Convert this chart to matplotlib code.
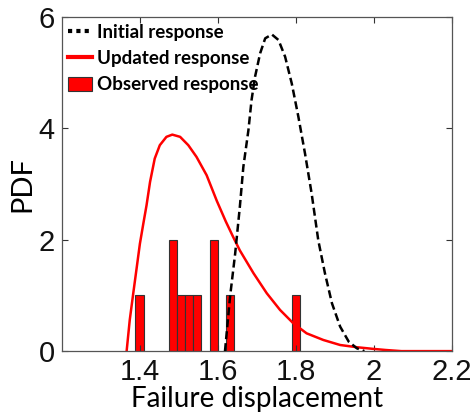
import matplotlib
matplotlib.use("Agg")
import matplotlib.pyplot as plt
from matplotlib.lines import Line2D
from matplotlib.patches import Patch

# observed response histogram (bin centres, counts)
obs_x = [1.399, 1.484, 1.505, 1.526, 1.547, 1.589, 1.631, 1.799]
obs_n = [1, 2, 1, 1, 1, 2, 1, 1]
bin_w = 0.021

# updated response pdf
upd_x = [1.366, 1.374, 1.383, 1.392, 1.400, 1.409, 1.417, 1.426, 1.438, 1.451,
         1.468, 1.483, 1.503, 1.524, 1.545, 1.571, 1.597, 1.620, 1.639, 1.656,
         1.691, 1.725, 1.759, 1.793, 1.827, 1.870, 1.913, 1.956, 1.998, 2.03,
         2.07, 2.2]
upd_y = [0.0, 0.56, 1.04, 1.51, 1.93, 2.30, 2.62, 3.04, 3.46, 3.70,
         3.85, 3.89, 3.85, 3.70, 3.49, 3.16, 2.70, 2.33, 2.05, 1.81,
         1.40, 1.04, 0.74, 0.50, 0.32, 0.20, 0.11, 0.07, 0.04, 0.02,
         0.0, 0.0]

# initial response pdf
ini_x = [1.618, 1.631, 1.644, 1.656, 1.665, 1.678, 1.686, 1.695, 1.708, 1.721,
         1.738, 1.755, 1.772, 1.789, 1.806, 1.823, 1.840, 1.857, 1.874, 1.892,
         1.913, 1.935, 1.956, 1.975]
ini_y = [0.0, 0.98, 1.75, 2.59, 3.31, 3.97, 4.51, 4.93, 5.35, 5.62,
         5.69, 5.59, 5.29, 4.81, 4.21, 3.55, 2.83, 1.99, 1.40, 0.86,
         0.44, 0.17, 0.05, 0.0]

xticks = [1.4, 1.6, 1.8, 2.0, 2.2]
xticklabels = ["1.4", "1.6", "1.8", "2", "2.2"]
yticks = [0, 2, 4, 6]

fig = plt.figure(figsize=(4.72, 4.19), dpi=100)
ax = fig.add_axes([0.131, 0.162, 0.827, 0.797])

ax.bar(obs_x, obs_n, width=bin_w, color="red", edgecolor="#333333", linewidth=0.8, zorder=1)
ax.plot(upd_x, upd_y, color="red", lw=1.8, zorder=2, solid_joinstyle="round")
ax.plot(ini_x, ini_y, color="black", lw=1.8, ls=(0, (3.2, 1.6)), zorder=3)

ax.set_xlim(1.2, 2.2)
ax.set_ylim(0, 6)
ax.set_xticks(xticks)
ax.set_xticklabels(xticklabels)
ax.set_yticks(yticks)
ax.tick_params(direction="in", length=4, width=0.8, color="#333333", top=True, right=True,
               labelsize=21, labelcolor="#111111", pad=5)
for lab in ax.get_xticklabels() + ax.get_yticklabels():
    lab.set_family("Liberation Sans")
for s in ax.spines.values():
    s.set_color("#555555")
    s.set_linewidth(0.9)

ax.set_xlabel("Failure displacement", family="Lato", fontsize=20, labelpad=0)
ax.set_ylabel("PDF", family="Lato", fontsize=21, labelpad=2)

handles = [
    Line2D([], [], color="black", lw=3, ls=(0, (1.0, 1.0))),
    Line2D([], [], color="red", lw=3),
    Patch(facecolor="red", edgecolor="#333333", linewidth=0.8),
]
labels = ["Initial response", "Updated response", "Observed response"]
ax.legend(handles, labels, loc="upper left", bbox_to_anchor=(0.0, 1.0), frameon=False,
          prop={"family": "Lato", "weight": "bold", "size": 13.5},
          handlelength=1.25, handleheight=0.85, handletextpad=0.25, labelspacing=0.5,
          borderpad=0.2, borderaxespad=0.15)

fig.savefig("out.png", dpi=100)
